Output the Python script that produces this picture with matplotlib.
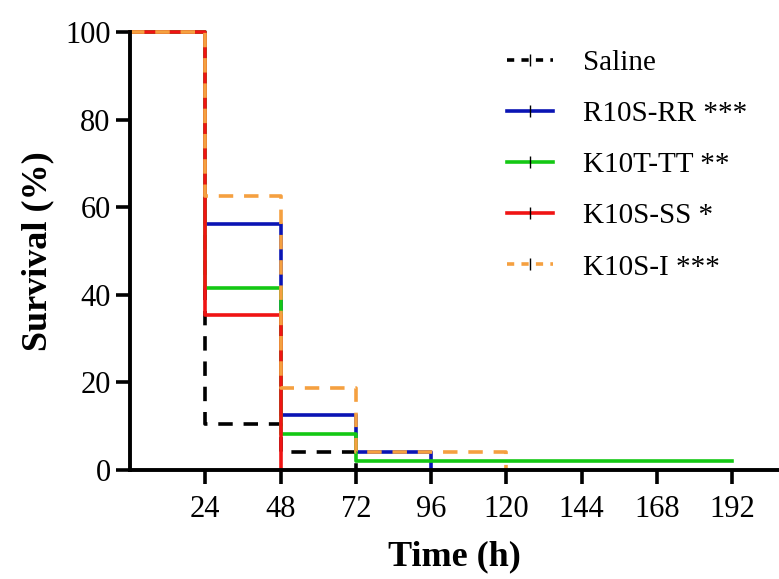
import matplotlib
matplotlib.use("Agg")
from matplotlib import pyplot as plt
from matplotlib.lines import Line2D

# survival data (time in h, survival in %)
saline_t = [0, 24, 48, 72]
saline_s = [100, 10.42, 4.17, 0]
r10s_t = [0, 24, 48, 72, 96]
r10s_s = [100, 56.25, 12.5, 4.17, 0]
k10t_t = [0, 24, 48, 72, 192]
k10t_s = [100, 41.67, 8.33, 2.08, 2.08]
k10ss_t = [0, 24, 48]
k10ss_s = [100, 35.42, 0]
k10i_t = [0, 24, 48, 72, 120]
k10i_s = [100, 62.5, 18.75, 4.17, 0]

labels = ["Saline", "R10S-RR ***", "K10T-TT **", "K10S-SS *", "K10S-I ***"]
xticks = [24, 48, 72, 96, 120, 144, 168, 192]
yticks = [0, 20, 40, 60, 80, 100]

plt.rcParams['font.family'] = ['Liberation Serif', 'DejaVu Serif']

fig = plt.figure(figsize=(7.79, 5.79), dpi=100)
ax = fig.add_axes([0.167, 0.188, 0.833, 0.757])

lw = 2.6
ax.step(saline_t, saline_s, where='post', color='black', lw=lw, ls=(0, (4, 3)), clip_on=False)
ax.step(r10s_t, r10s_s, where='post', color='#0a14b4', lw=lw, clip_on=False)
ax.step(k10t_t, k10t_s, where='post', color='#14c814', lw=lw, clip_on=False)
ax.step(k10ss_t, k10ss_s, where='post', color='#f01414', lw=lw, clip_on=False)
ax.step(k10i_t, k10i_s, where='post', color='#f5a040', lw=lw, ls=(0, (4, 3)), clip_on=False)

ax.set_xlim(0, 207)
ax.set_ylim(0, 100)
ax.set_xticks(xticks)
ax.set_yticks(yticks)
ax.tick_params(axis='both', direction='out', length=10, width=2.6, labelsize=22, pad=4)
ax.tick_params(axis='x', pad=8)
for side in ['top', 'right']:
    ax.spines[side].set_visible(False)
for side in ['left', 'bottom']:
    ax.spines[side].set_linewidth(2.8)

ax.set_xlabel("Time (h)", fontsize=26, fontweight='bold', labelpad=12)
ax.set_ylabel("Survival (%)", fontsize=26, fontweight='bold', labelpad=8)

handles = [
    Line2D([], [], color='black', lw=lw, ls=(0, (2, 2)), marker='|', markersize=9, markeredgecolor='black'),
    Line2D([], [], color='#0a14b4', lw=lw, marker='|', markersize=9, markeredgecolor='black'),
    Line2D([], [], color='#14c814', lw=lw, marker='|', markersize=9, markeredgecolor='black'),
    Line2D([], [], color='#f01414', lw=lw, marker='|', markersize=9, markeredgecolor='black'),
    Line2D([], [], color='#f5a040', lw=lw, ls=(0, (2, 2)), marker='|', markersize=9, markeredgecolor='black'),
]
ax.legend(handles, labels, loc='upper left', bbox_to_anchor=(0.54, 1.02), frameon=False,
          fontsize=21, handlelength=1.6, handletextpad=1.0, labelspacing=0.85, numpoints=1)

fig.savefig("out.png", dpi=100)
